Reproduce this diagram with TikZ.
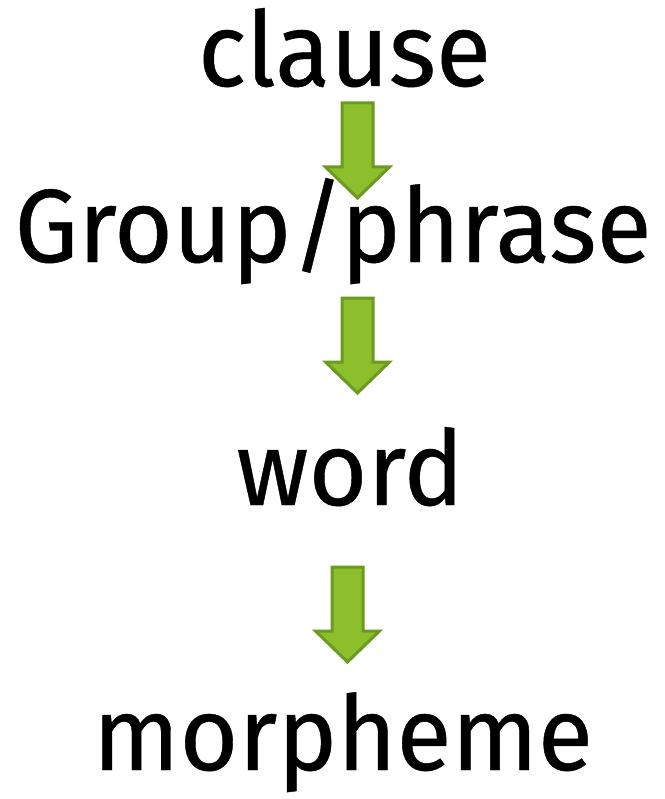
\documentclass[tikz,border=0pt]{standalone}
\usepackage{fontspec}
\setmainfont{Fira Sans}[FakeStretch=0.97, FakeBold=0.4]
\definecolor{arrowfill}{HTML}{8DBF2C}
\definecolor{arrowedge}{HTML}{6A9A20}
\tikzset{
  level/.style={anchor=base, inner sep=0pt, font=\fontsize{104}{114}\selectfont},
  downarrow/.style={fill=arrowfill, draw=arrowedge, line width=3pt, line join=miter}
}
\begin{document}
\begin{tikzpicture}[x=1pt,y=1pt]
\useasboundingbox (0,0) rectangle (664,-799);
\node[level] (clause) at (344.5,-86) {clause};
\node[level] (group) at (333,-262) {Group/phrase};
\node[level] (word) at (350,-505) {word};
\node[level] (morph) at (343,-770) {morpheme};
% block arrows between the levels
\foreach \cx/\top in {357.5/103, 357.5/298, 347.5/567}{
  \draw[downarrow] (\cx-15.5,-\top) -- (\cx+15.5,-\top) -- (\cx+15.5,-\top-64)
    -- (\cx+32,-\top-64) -- (\cx,-\top-95) -- (\cx-32,-\top-64)
    -- (\cx-15.5,-\top-64) -- cycle;
}
\end{tikzpicture}
\end{document}
